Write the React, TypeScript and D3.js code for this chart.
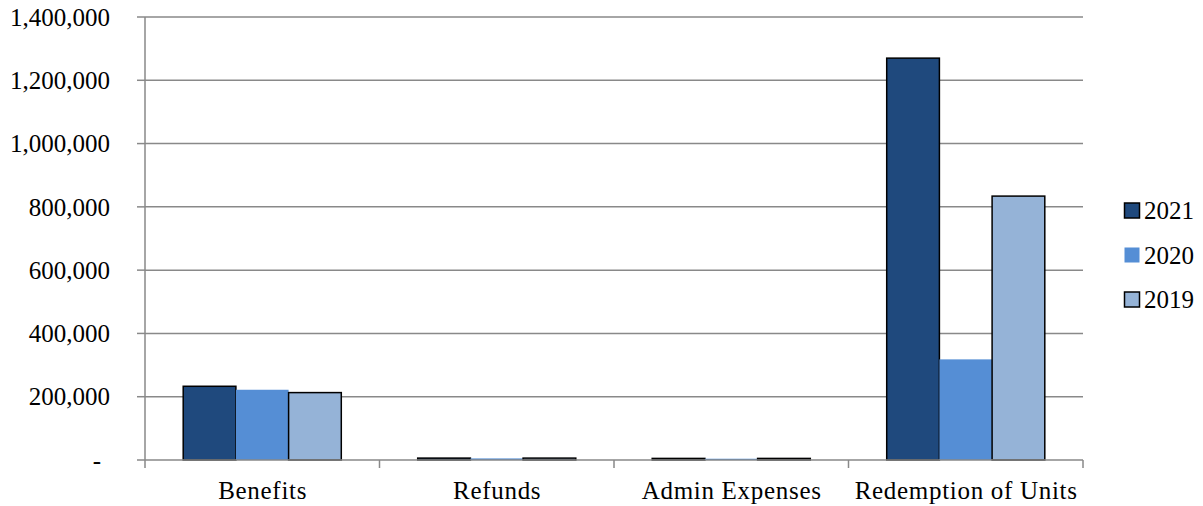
import React from "react";
import * as d3 from "d3";

const categories = ["Benefits", "Refunds", "Admin Expenses", "Redemption of Units"];
const seriesNames = ["2021", "2020", "2019"];
const values2021 = [233000, 6000, 5000, 1270000];
const values2020 = [222000, 5000, 4000, 318000];
const values2019 = [213000, 6000, 5000, 834000];
const yTicks = [0, 200000, 400000, 600000, 800000, 1000000, 1200000, 1400000];

const colors = ["#1F497D", "#558ED5", "#95B3D7"];
const strokes = ["#000", "none", "#000"];

export default function App() {
  const W = 1203, H = 506;
  const left = 145, right = 1083, top = 17, bottom = 460;
  const x = d3.scaleBand<string>().domain(categories).range([left, right]).paddingInner(0).paddingOuter(0);
  const y = d3.scaleLinear().domain([0, 1400000]).range([bottom, top]);
  const bw = x.bandwidth() / (3 + 1.45);
  const series = [values2021, values2020, values2019];
  const font = "'Liberation Serif', 'Times New Roman', serif";
  const grid = "#898989";
  const fmt = d3.format(",");
  const boundaries = [...categories.map((c) => x(c)!), right];
  return (
    <svg width={W} height={H} style={{ position: "absolute", left: 0, top: 0, background: "#fff", fontFamily: font }}>
      {yTicks.map((t) => (
        <g key={t}>
          {t > 0 && <line x1={left} x2={right} y1={y(t)} y2={y(t)} stroke={grid} strokeWidth={1.5} />}
          <line x1={137} x2={left} y1={y(t)} y2={y(t)} stroke={grid} strokeWidth={1.5} />
          <text x={t === 0 ? 101 : 110} y={y(t)} dy="0.35em" textAnchor="end" fontSize={25} fill="#000" style={{ fontFamily: font }}>
            {t === 0 ? "-" : fmt(t)}
          </text>
        </g>
      ))}
      {series.map((vals, si) =>
        categories.map((c, ci) => {
          const x0 = x(c)! + bw * 0.725 + si * bw;
          const yv = y(vals[ci]);
          return (
            <rect key={si + "-" + ci} x={x0} y={yv} width={bw} height={bottom - yv}
              fill={colors[si]} stroke={strokes[si]} strokeWidth={strokes[si] === "none" ? 0 : 1.5} />
          );
        })
      )}
      <line x1={left} x2={right} y1={bottom} y2={bottom} stroke={grid} strokeWidth={1.5} />
      <line x1={left} x2={left} y1={top} y2={bottom} stroke={grid} strokeWidth={1.5} />
      {boundaries.map((b, i) => (
        <line key={i} x1={b} x2={b} y1={bottom} y2={bottom + 8} stroke={grid} strokeWidth={1.5} />
      ))}
      {categories.map((c) => (
        <text key={c} x={x(c)! + x.bandwidth() / 2 + 0.4} y={499} textAnchor="middle" fontSize={25} fill="#000"
          style={{ fontFamily: font, letterSpacing: "0.7px" }}>
          {c}
        </text>
      ))}
      {seriesNames.map((s, i) => {
        const cy = 210.5 + i * 44.5;
        return (
          <g key={s}>
            <rect x={1124.5} y={cy - 7.5} width={15} height={15} fill={colors[i]}
              stroke={strokes[i]} strokeWidth={strokes[i] === "none" ? 0 : 1.5} />
            <text x={1144} y={cy} dy="0.35em" fontSize={25} fill="#000" style={{ fontFamily: font }}>{s}</text>
          </g>
        );
      })}
    </svg>
  );
}
